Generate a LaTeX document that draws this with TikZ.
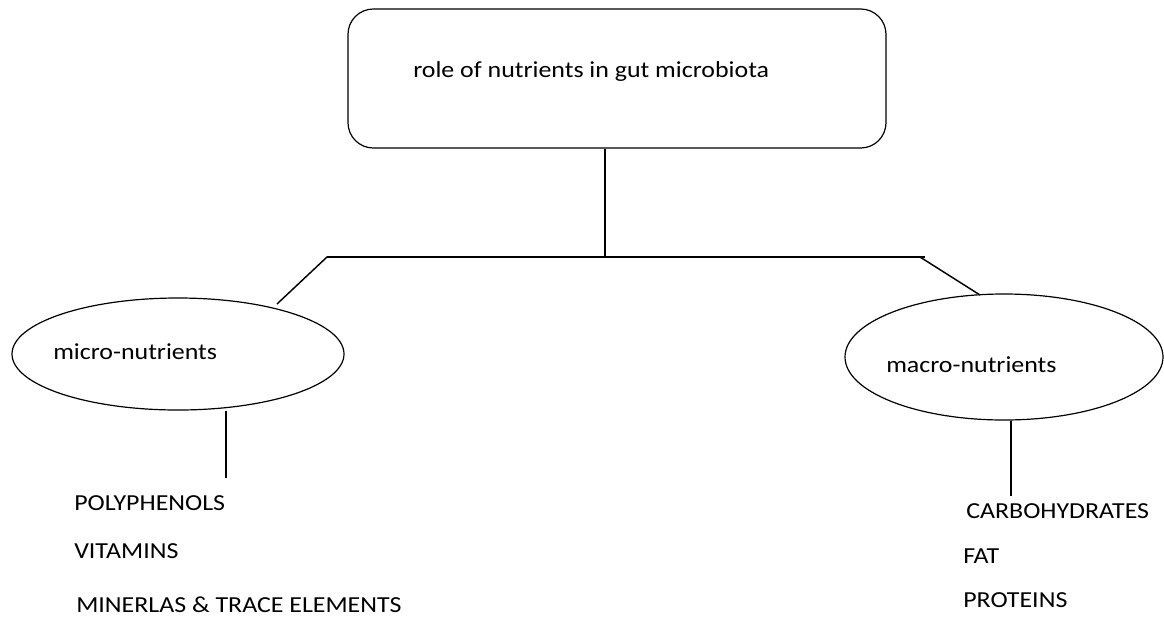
\documentclass[tikz,border=0pt]{standalone}
\usepackage{fontspec}
\setmainfont{Carlito}[FakeStretch=1.13]
\usetikzlibrary{shapes.geometric}
\begin{document}
\begin{tikzpicture}[x=0.75pt,y=-0.75pt,
  conn/.style={line width=1.1pt, black},
  lbl/.style={anchor=west, inner sep=0pt, font=\fontsize{17.2}{20}\selectfont},
  ell/.style={ellipse, draw, line width=0.9pt, inner sep=0pt}]
\useasboundingbox (0,0) rectangle (1164,619);
\node[draw, line width=0.9pt, rounded corners=19pt, minimum width=538*0.75pt, minimum height=139*0.75pt, inner sep=0pt] (root) at (617,78.5) {};
\node[lbl] (roott) at (413,72) {role of nutrients in gut microbiota};
\node[ell, minimum width=332*0.75pt, minimum height=112*0.75pt] (micro) at (178,354) {};
\node[lbl] (microt) at (53,352) {micro-nutrients};
\node[ell, minimum width=318*0.75pt, minimum height=126*0.75pt] (macro) at (1004,357) {};
\node[lbl] (macrot) at (886,365) {macro-nutrients};
\coordinate (hub) at (605,257);
\coordinate (hl) at (327,257);
\coordinate (hr) at (925,257);
\coordinate (dl) at (277,304);
\coordinate (dr) at (980,295);
\coordinate (vl) at (226,478);
\coordinate (vr) at (1011,496);
\draw[conn] (root.south -| hub) -- (hub);
\draw[conn] (hl) -- (hr);
\draw[conn] (hl) -- (dl);
\draw[conn] (920,257) -- (dr);
\draw[conn] (micro.south -| vl) -- (vl);
\draw[conn] (macro.south -| vr) -- (vr);
\node[lbl] (p1) at (74,503) {POLYPHENOLS};
\node[lbl] (p2) at (74,551) {VITAMINS};
\node[lbl] (p3) at (76,605) {MINERLAS \& TRACE ELEMENTS};
\node[lbl] (c1) at (966,511) {CARBOHYDRATES};
\node[lbl] (c2) at (963,556) {FAT};
\node[lbl] (c3) at (963,600) {PROTEINS};
\end{tikzpicture}
\end{document}
